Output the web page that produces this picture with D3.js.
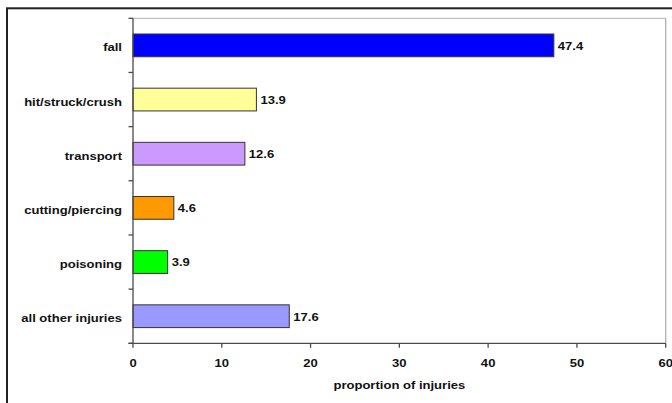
<!DOCTYPE html>
<html>
<head>
<meta charset="utf-8">
<script src="https://cdn.jsdelivr.net/npm/d3@7"></script>
<style>
  html, body { margin: 0; padding: 0; background: #fff; }
  svg { display: block; }
  text { font-family: "Liberation Sans", Arial, sans-serif; font-weight: bold; fill: #111; }
</style>
</head>
<body>
<svg id="chart" width="672" height="403"></svg>
<script>
// Injury categories and their share of all injuries (%)
const categories = ["fall", "hit/struck/crush", "transport", "cutting/piercing", "poisoning", "all other injuries"];
const values = [47.4, 13.9, 12.6, 4.6, 3.9, 17.6];
const colors = ["#0000ff", "#ffff99", "#cc99ff", "#ff9900", "#00ff00", "#9999ff"];
const xTicks = [0, 10, 20, 30, 40, 50, 60];
const xTitle = "proportion of injuries";

const svg = d3.select("#chart");
const W = 672, H = 403;
const plot = { left: 133, right: 665.7, top: 18.3, bottom: 343.3 };
const fontSize = 10.2;
const stretch = 1.28; // wide lettering

// outer frame (runs off the right and bottom edges)
svg.append("rect")
  .attr("x", 7).attr("y", 8.3)
  .attr("width", W + 10).attr("height", H + 10)
  .attr("fill", "#fff")
  .attr("stroke", "#222").attr("stroke-width", 2);

const x = d3.scaleLinear().domain([0, 60]).range([plot.left, plot.right]);
const y = d3.scaleBand().domain(categories).range([plot.top, plot.bottom]).padding(0);
const barH = y.bandwidth() * 0.42;

// plot area border: light top and right edges
svg.append("line")
  .attr("x1", plot.left).attr("x2", plot.right)
  .attr("y1", plot.top).attr("y2", plot.top)
  .attr("stroke", "#c0c0c0").attr("stroke-width", 1.3);
svg.append("line")
  .attr("x1", plot.right).attr("x2", plot.right)
  .attr("y1", plot.top).attr("y2", plot.bottom)
  .attr("stroke", "#b0b0b0").attr("stroke-width", 1.3);

function stretchedText(g, tx, ty, anchor, str) {
  return g.append("text")
    .attr("transform", `translate(${tx},${ty}) scale(${stretch},1)`)
    .attr("text-anchor", anchor)
    .attr("font-size", fontSize)
    .text(str);
}

// bars
svg.append("g").selectAll("rect")
  .data(categories)
  .join("rect")
  .attr("x", x(0))
  .attr("y", (d) => y(d) + (y.bandwidth() - barH) / 2)
  .attr("width", (d, i) => x(values[i]) - x(0))
  .attr("height", barH)
  .attr("fill", (d, i) => colors[i])
  .attr("stroke", "#333").attr("stroke-width", 1);

// value labels
const labels = svg.append("g");
categories.forEach((c, i) => {
  stretchedText(labels, x(values[i]) + 4, y(c) + y.bandwidth() / 2 + 4.3, "start", values[i].toFixed(1));
});

// category axis: ticks at band boundaries
const axisColor = "#4a4a4a";
const yAxis = svg.append("g");
const bounds = categories.map((c) => y(c)).concat([plot.bottom]);
yAxis.selectAll("line.tick")
  .data(bounds)
  .join("line")
  .attr("x1", plot.left - 4.5).attr("x2", plot.left)
  .attr("y1", (d) => d).attr("y2", (d) => d)
  .attr("stroke", axisColor).attr("stroke-width", 1.3);
yAxis.append("line")
  .attr("x1", plot.left).attr("x2", plot.left)
  .attr("y1", plot.top).attr("y2", plot.bottom)
  .attr("stroke", axisColor).attr("stroke-width", 1.3);
categories.forEach((c) => {
  stretchedText(yAxis, plot.left - 11, y(c) + y.bandwidth() / 2 + 6, "end", c);
});

// value axis
const xAxis = svg.append("g");
xAxis.append("line")
  .attr("x1", plot.left - 4.5).attr("x2", plot.right)
  .attr("y1", plot.bottom).attr("y2", plot.bottom)
  .attr("stroke", axisColor).attr("stroke-width", 1.3);
xAxis.selectAll("line.tick")
  .data(xTicks)
  .join("line")
  .attr("x1", (d) => x(d)).attr("x2", (d) => x(d))
  .attr("y1", plot.bottom).attr("y2", plot.bottom + 4.5)
  .attr("stroke", axisColor).attr("stroke-width", 1.3);
xTicks.forEach((t) => {
  stretchedText(xAxis, x(t), plot.bottom + 23.3, "middle", String(t));
});

// axis title
stretchedText(svg, (plot.left + plot.right) / 2, 388.5, "middle", xTitle);
</script>
</body>
</html>
